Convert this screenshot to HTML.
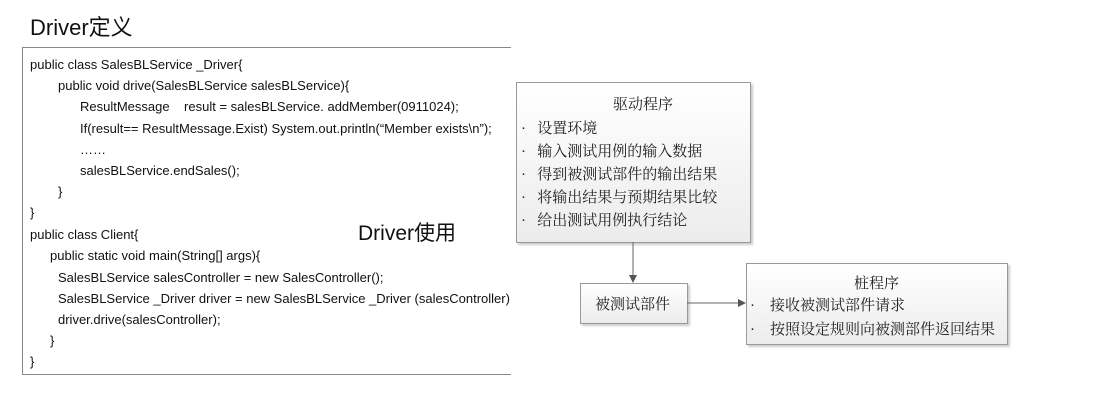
<!DOCTYPE html>
<html><head><meta charset="utf-8"><style>
body{margin:0;width:1096px;height:403px;background:#fff;position:relative;overflow:hidden;font-family:"Liberation Sans","Noto Sans CJK SC",sans-serif;}
.a{position:absolute;white-space:nowrap;}
.code{font-size:13px;color:#111;}
.box{position:absolute;border:1px solid #999;background:linear-gradient(#fff,#ececec);box-shadow:2px 2px 2px #ccc;}
.cn{font-family:"Liberation Serif","Noto Serif CJK SC",serif;font-size:15px;color:#222;}
</style></head><body>
<div class="a" style="left:30px;top:10px;font-size:22px;color:#111;">Driver定义</div>
<div style="position:absolute;left:22px;top:47px;width:488px;height:326px;border-top:1px solid #888;border-left:1px solid #888;border-bottom:1px solid #888;"></div>
<div class="a code" style="left:30px;top:57px">public class SalesBLService _Driver{</div>
<div class="a code" style="left:58px;top:78px">public void drive(SalesBLService salesBLService){</div>
<div class="a code" style="left:80px;top:99px">ResultMessage &nbsp;&nbsp;&nbsp;result = salesBLService. addMember(0911024);</div>
<div class="a code" style="left:80px;top:121px">If(result== ResultMessage.Exist) System.out.println(“Member exists\n”);</div>
<div class="a code" style="left:80px;top:142px">……</div>
<div class="a code" style="left:80px;top:163px">salesBLService.endSales();</div>
<div class="a code" style="left:58px;top:184px">}</div>
<div class="a code" style="left:30px;top:205px">}</div>
<div class="a code" style="left:30px;top:227px">public class Client{</div>
<div class="a code" style="left:50px;top:248px">public static void main(String[] args){</div>
<div class="a code" style="left:58px;top:270px">SalesBLService salesController = new SalesController();</div>
<div class="a code" style="left:58px;top:291px">SalesBLService _Driver driver = new SalesBLService _Driver (salesController)</div>
<div class="a code" style="left:58px;top:312px">driver.drive(salesController);</div>
<div class="a code" style="left:50px;top:333px">}</div>
<div class="a code" style="left:30px;top:354px">}</div>
<div class="a" style="left:358px;top:217px;font-size:21px;color:#111;">Driver使用</div>

<div class="box" style="left:516px;top:82px;width:233px;height:159px;"></div>
<div class="a cn" style="left:613px;top:93px">驱动程序</div>
<div class="a cn" style="left:521px;top:117px">·&nbsp;&nbsp;&nbsp;设置环境</div>
<div class="a cn" style="left:521px;top:140px">·&nbsp;&nbsp;&nbsp;输入测试用例的输入数据</div>
<div class="a cn" style="left:521px;top:163px">·&nbsp;&nbsp;&nbsp;得到被测试部件的输出结果</div>
<div class="a cn" style="left:521px;top:186px">·&nbsp;&nbsp;&nbsp;将输出结果与预期结果比较</div>
<div class="a cn" style="left:521px;top:209px">·&nbsp;&nbsp;&nbsp;给出测试用例执行结论</div>

<div class="box" style="left:580px;top:283px;width:106px;height:39px;"></div>
<div class="a cn" style="left:595px;top:293px">被测试部件</div>

<div class="box" style="left:746px;top:263px;width:260px;height:80px;"></div>
<div class="a cn" style="left:854px;top:272px">桩程序</div>
<div class="a cn" style="left:750px;top:294px">·&nbsp;&nbsp;&nbsp;&nbsp;接收被测试部件请求</div>
<div class="a cn" style="left:750px;top:318px">·&nbsp;&nbsp;&nbsp;&nbsp;按照设定规则向被测部件返回结果</div>

<svg width="1096" height="403" style="position:absolute;left:0;top:0">
<line x1="633" y1="242" x2="633" y2="276" stroke="#666"/>
<polygon points="629,275 637,275 633,283" fill="#555"/>
<line x1="687" y1="303" x2="739" y2="303" stroke="#666"/>
<polygon points="738,299 746,303 738,307" fill="#555"/>
</svg>
</body></html>
